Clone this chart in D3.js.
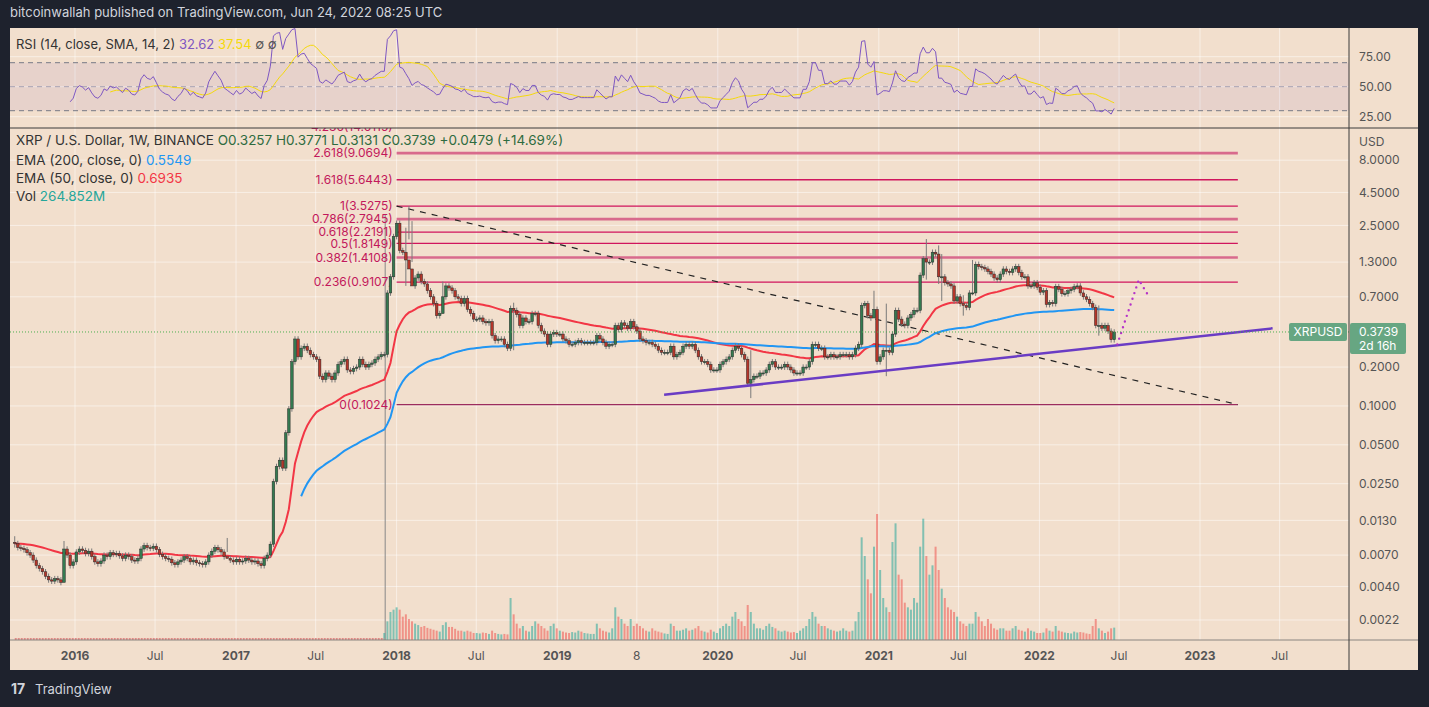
<!DOCTYPE html>
<html><head><meta charset="utf-8">
<script src="https://cdn.jsdelivr.net/npm/d3@7"></script>
<style>
body{margin:0;background:#1e222d;font-family:"Inter","Roboto",sans-serif;}
svg text{font-family:"Inter","Roboto",sans-serif;}
</style></head>
<body><svg id="chart" width="1429" height="707"></svg>
<script>
// weekly XRP/USD closes, first week = 2015-08-17
const startWeek = new Date(2015, 7, 17);
const closes = [
  // 2015
  0.0086,0.0080,0.0079,0.0077,0.0073,0.0070,0.0064,0.0058,0.0055,0.0052,0.0048,0.0045,0.0044,0.0046,0.0045,0.0043,0.0078,0.0070,0.0058,0.0062,
  // 2016
  0.0074,0.0078,0.0076,0.0072, 0.0075,0.0068,0.0062,0.0060, 0.0063,0.0070,0.0068,0.0073,0.0071, 0.0072,0.0069,0.0066,0.0070,
  0.0068,0.0064,0.0063,0.0066, 0.0078,0.0083,0.0080,0.0079, 0.0082,0.0077,0.0071,0.0068,0.0066, 0.0065,0.0061,0.0059,0.0062,
  0.0064,0.0068,0.0066,0.0062, 0.0064,0.0061,0.0060,0.0059,0.0062, 0.0070,0.0075,0.0080,0.0077, 0.0074,0.0068,0.0066,0.0064,0.0062,
  // 2017
  0.0065,0.0062,0.0063,0.0066,0.0064, 0.0062,0.0063,0.0060,0.0058, 0.0066,0.0070,0.0085,0.0260, 0.0340,0.0380,0.0330,0.0620,
  0.095,0.220,0.330,0.240,0.280, 0.290,0.270,0.250,0.240, 0.230,0.170,0.160,0.180,0.170, 0.160,0.180,0.210,0.220,
  0.230,0.190,0.185,0.195, 0.200,0.230,0.210,0.200,0.210, 0.215,0.230,0.240,0.250, 0.250,0.750,1.000,2.050,
  // 2018
  2.60,1.60,1.55,1.35,1.15, 0.85,0.98,1.05,0.92, 0.88,0.78,0.70,0.62, 0.50,0.52,0.70,0.85,0.82, 0.78,0.70,0.68,0.62,
  0.68,0.56,0.52,0.47, 0.47,0.48,0.45,0.44,0.45, 0.35,0.32,0.33,0.33, 0.30,0.28,0.57,0.55, 0.51,0.42,0.48,0.45,0.45,
  0.52,0.52,0.42,0.38, 0.36,0.30,0.36,0.37,0.36,
  // 2019
  0.36,0.33,0.32,0.30, 0.30,0.31,0.32,0.31, 0.31,0.31,0.31,0.31, 0.35,0.33,0.31,0.29,0.30, 0.30,0.42,0.39,0.44,
  0.42,0.40,0.45,0.41, 0.38,0.33,0.32,0.31,0.31, 0.30,0.29,0.27,0.26, 0.26,0.26,0.29,0.24,0.25, 0.26,0.29,0.30,0.29,
  0.30,0.27,0.24,0.22, 0.22,0.21,0.19,0.19,0.19,
  // 2020
  0.21,0.22,0.23,0.24, 0.27,0.29,0.28,0.25, 0.23,0.15,0.16,0.17,0.17, 0.18,0.18,0.19,0.21, 0.22,0.20,0.20,0.20,
  0.21,0.20,0.19,0.18,0.18, 0.18,0.20,0.20,0.22, 0.30,0.30,0.28,0.28, 0.24,0.24,0.25,0.24,0.24, 0.25,0.25,0.25,0.24,
  0.25,0.28,0.30,0.60,0.62, 0.50,0.48,0.56,0.22,
  // 2021
  0.24,0.27,0.27,0.26, 0.36,0.55,0.47,0.43, 0.42,0.48,0.51,0.55,0.55, 1.03,1.38,1.30,1.30, 1.55,1.50,1.00,1.00,0.90,
  0.88,0.85,0.65,0.70, 0.62,0.60,0.58,0.75, 0.75,1.25,1.20,1.18,1.15, 1.10,1.05,0.98,0.95, 1.05,1.15,1.10,1.08,
  1.15,1.20,1.08,1.00,1.00, 0.85,0.85,0.90,0.83,
  // 2022
  0.76,0.78,0.61,0.63, 0.62,0.84,0.80,0.74,0.74, 0.78,0.80,0.84,0.85, 0.75,0.70,0.67,0.62, 0.58,0.42,0.42,0.40,0.42,
  0.38,0.3257,0.3739
];
const firstOpen = 0.0088;
// notable wicks: week index -> [high, low]
const wicks = new Map([
  [0,[0.0098,0.0080]],[16,[0.0090,0.0045]],[69,[0.0095,0.0074]],[127,[2.40,0.85]],[128,[3.5275,1.95]],
  [129,[2.70,1.30]],[139,[0.92,0.52]],[162,[0.63,0.27]],[239,[0.27,0.115]],[279,[0.78,0.52]],[283,[0.62,0.17]],
  [296,[1.96,0.95]],[300,[1.75,0.88]],[301,[1.50,0.65]],[308,[0.72,0.50]],[311,[1.35,0.72]],[352,[0.60,0.35]]
]);
// volume (millions), weeks from 2017-12-04
const volStart = 120;
const volumes = [
  150,400,600,650,
  700,650,500,550,450, 400,350,320,280, 300,260,240,220, 200,180,320,380,280, 280,240,200,200, 180,200,180,150,
  150,140,160,150,130, 200,150,130,120, 130,120,900,550, 350,250,300,200,180, 300,400,350,300, 250,200,300,350,250,
  200,180,160,150, 170,160,200,180, 150,140,130,130, 350,250,200,180,160, 250,700,500,450, 350,300,450,300,
  350,300,250,200,180, 250,200,180,160, 140,130,350,300,200, 200,220,250,200, 220,250,300,200, 180,160,220,180,150,
  250,300,350,300, 500,600,450,400, 300,750,600,350,250, 250,220,300,350, 280,250,200,180, 200,180,160,170,150,
  200,250,300,450, 600,500,350,300, 300,250,220,200,180, 200,250,200,180, 200,400,600,2200,1800, 1300,1000,2000,2700,
  1500,900,700,600, 2100,2500,1400,1300, 800,700,650,900,800, 2000,2600,1800,1400, 1600,2000,1500,1100,900,
  700,650,600,500, 400,350,300,350, 350,600,500,400,300, 450,350,250,220, 250,250,200,200, 250,300,220,200,180, 250,200,180,150,
  150,160,250,200, 180,300,200,180,160, 150,140,180,160, 170,160,140,130, 300,450,250,200,150, 180,250,265
];
const fibLevels = ["4.236","2.618","1.618","1","0.786","0.618","0.5","0.382","0.236","0"];
const fibPrices = [14.6115,9.0694,5.6443,3.5275,2.7945,2.2191,1.8149,1.4108,0.9107,0.1024];
const priceTicks = [8,4.5,2.5,1.3,0.7,0.2,0.1,0.05,0.025,0.013,0.007,0.004,0.0022];
const rsiTicks = [75,50,25];
const timeTicks = [
  [new Date(2016,0,1),"2016"],[new Date(2016,6,1),"Jul"],[new Date(2017,0,1),"2017"],[new Date(2017,6,1),"Jul"],
  [new Date(2018,0,1),"2018"],[new Date(2018,6,1),"Jul"],[new Date(2019,0,1),"2019"],[new Date(2019,6,1),"8"],
  [new Date(2020,0,1),"2020"],[new Date(2020,6,1),"Jul"],[new Date(2021,0,1),"2021"],[new Date(2021,6,1),"Jul"],
  [new Date(2022,0,1),"2022"],[new Date(2022,6,1),"Jul"],[new Date(2023,0,1),"2023"],[new Date(2023,6,1),"Jul"]
];

const svg = d3.select("#chart");
const L = 10, R = 1418, AX = 1349, T = 28, RSIB = 128, PB = 640, B = 670;
const bg = "#f2dfcd", grid = "rgba(255,255,255,0.5)";

// candles
const data = closes.map((c, i) => {
  const o = i ? closes[i - 1] : firstOpen;
  const w = wicks.get(i);
  return { date: d3.timeDay.offset(startWeek, 7 * i), o, c,
    h: w ? w[0] : Math.max(o, c) * 1.05, l: w ? w[1] : Math.min(o, c) * 0.95,
    v: i >= volStart ? volumes[i - volStart] : 0 };
});

const x = d3.scaleTime().domain([new Date(2016,0,1), new Date(2023,0,1)]).range([75, 1200]);
const y = d3.scaleLog().domain([0.00154, 14.2]).range([PB, RSIB]);
const yR = d3.scaleLinear().domain([25, 75]).range([116.7, 56.7]);
const yV = d3.scaleLinear().domain([0, 2700]).range([0, 126]);

// ema + rsi from the closes
function ema(arr, n) { const a = 2 / (n + 1); let e = arr[0]; return arr.map(v => (e = a * v + (1 - a) * e)); }
const ema50 = ema(closes, 50), ema200 = ema(closes, 200);
const rsi = []; let ag = 0, al = 0;
closes.forEach((c, i) => {
  if (i === 0) return rsi.push(null);
  const d = c - closes[i - 1], g = Math.max(d, 0), l = Math.max(-d, 0);
  if (i <= 14) { ag += g / 14; al += l / 14; } else { ag = (ag * 13 + g) / 14; al = (al * 13 + l) / 14; }
  rsi.push(i < 18 ? null : 100 - 100 / (1 + ag / (al || 1e-9)));
});
const rsiSma = rsi.map((v, i) => i < 31 ? null : d3.mean(rsi.slice(i - 13, i + 1)));

// background
svg.append("rect").attr("x", L).attr("y", T).attr("width", R - L).attr("height", B - T).attr("fill", bg);
svg.append("text").attr("x", 10).attr("y", 17).attr("fill", "#d1d4dc").attr("font-size", 13)
  .text("bitcoinwallah published on TradingView.com, Jun 24, 2022 08:25 UTC");

const defs = svg.append("defs");
defs.append("clipPath").attr("id", "cp").append("rect").attr("x", L).attr("y", RSIB).attr("width", AX - L).attr("height", PB - RSIB);
defs.append("clipPath").attr("id", "cr").append("rect").attr("x", L).attr("y", T).attr("width", AX - L).attr("height", RSIB - T);

// grids
const g0 = svg.append("g");
timeTicks.forEach(([d]) => g0.append("line").attr("x1", x(d)).attr("x2", x(d)).attr("y1", T).attr("y2", PB).attr("stroke", grid));
priceTicks.forEach(p => g0.append("line").attr("x1", L).attr("x2", AX).attr("y1", y(p)).attr("y2", y(p)).attr("stroke", grid));
rsiTicks.forEach(r => g0.append("line").attr("x1", L).attr("x2", AX).attr("y1", yR(r)).attr("y2", yR(r)).attr("stroke", grid));

// RSI pane
const gr = svg.append("g").attr("clip-path", "url(#cr)");
gr.append("rect").attr("x", L).attr("width", AX - L).attr("y", yR(70)).attr("height", yR(30) - yR(70)).attr("fill", "rgba(126,87,194,0.09)");
[[70, "#787b86"], [50, "#a8a0b0"], [30, "#787b86"]].forEach(([r, c]) =>
  gr.append("line").attr("x1", L).attr("x2", AX).attr("y1", yR(r)).attr("y2", yR(r)).attr("stroke", c).attr("stroke-dasharray", "5,4"));
const lr = d3.line().defined(d => d[1] != null).x(d => x(d[0])).y(d => yR(d[1]));
gr.append("path").attr("d", lr(data.map((d, i) => [d.date, rsiSma[i]]))).attr("fill", "none").attr("stroke", "#f5d90a").attr("stroke-width", 1);
gr.append("path").attr("d", lr(data.map((d, i) => [d.date, rsi[i]]))).attr("fill", "none").attr("stroke", "#7e57c2").attr("stroke-width", 1);
const rl = svg.append("text").attr("x", 16).attr("y", 49).attr("font-size", 13).attr("fill", "#333").text("RSI (14, close, SMA, 14, 2) ");
rl.append("tspan").attr("fill", "#7e57c2").text(" 32.62 ");
rl.append("tspan").attr("fill", "#f5d90a").text(" 37.54 ");
rl.append("tspan").attr("fill", "#555").text(" ∅  ∅");

// price pane
const gp = svg.append("g").attr("clip-path", "url(#cp)");
const fibX0 = x(new Date(2018,0,1)), fibX1 = x(new Date(2023,2,28));
gp.append("line").attr("x1", x(new Date(2017,11,6))).attr("x2", x(new Date(2017,11,6))).attr("y1", y(3.5275) + 8).attr("y2", PB).attr("stroke", "#888").attr("stroke-width", 1);
fibPrices.forEach((p, i) => {
  const thick = fibLevels[i] === "0.786" || fibLevels[i] === "0.382" || fibLevels[i] === "2.618";
  gp.append("line").attr("x1", fibX0).attr("x2", fibX1).attr("y1", y(p)).attr("y2", y(p))
    .attr("stroke", fibLevels[i] === "0" ? "#9c2c5e" : (thick ? "#d86a8c" : "#d0155d")).attr("stroke-width", thick ? 2.6 : 1.3);
  gp.append("text").attr("x", fibX0 - 4).attr("y", y(p)).attr("dy", "0.35em").attr("text-anchor", "end")
    .attr("font-size", 12).attr("fill", "#c2185b").text(`${fibLevels[i]}(${p.toFixed(4)})`);
});
// volume
gp.selectAll(".vol").data(data.filter(d => d.v > 0)).join("rect")
  .attr("x", d => x(d.date) - 1).attr("width", 2).attr("y", d => PB - yV(d.v)).attr("height", d => yV(d.v))
  .attr("fill", d => d.c >= d.o ? "rgba(38,166,154,0.55)" : "rgba(239,83,80,0.55)");
gp.append("line").attr("x1", x(data[0].date)).attr("x2", x(data[volStart].date)).attr("y1", PB - 1).attr("y2", PB - 1)
  .attr("stroke", "#e08a86").attr("stroke-width", 2).attr("stroke-dasharray", "2,1");
// trend lines
gp.append("line").attr("x1", fibX0).attr("y1", y(3.5275)).attr("x2", fibX1).attr("y2", y(0.1024))
  .attr("stroke", "#222").attr("stroke-width", 1.2).attr("stroke-dasharray", "6,6");
// EMAs
const le = d3.line().x(d => x(d[0])).y(d => y(d[1]));
gp.append("path").attr("d", le(data.map((d, i) => [d.date, ema50[i]]))).attr("fill", "none").attr("stroke", "#f23645").attr("stroke-width", 2);
gp.append("path").attr("d", le(data.map((d, i) => [d.date, ema200[i]]).filter(d => d[0] >= new Date(2017,4,29))))
  .attr("fill", "none").attr("stroke", "#2196f3").attr("stroke-width", 2);
// candles
const cg = gp.append("g");
cg.selectAll(".w").data(data).join("line").attr("x1", d => x(d.date)).attr("x2", d => x(d.date))
  .attr("y1", d => y(d.h)).attr("y2", d => y(d.l)).attr("stroke", "#7a7a7a").attr("stroke-width", 1);
cg.selectAll(".b").data(data).join("rect").attr("x", d => x(d.date) - 1.3).attr("width", 2.6)
  .attr("y", d => y(Math.max(d.o, d.c))).attr("height", d => Math.max(1, y(Math.min(d.o, d.c)) - y(Math.max(d.o, d.c))))
  .attr("fill", d => d.c >= d.o ? "#347a50" : "#b5362a").attr("stroke", "#2a2a2a").attr("stroke-width", 0.5);
// support line + projection
gp.append("line").attr("x1", x(new Date(2019,8,1))).attr("y1", y(0.122)).attr("x2", x(new Date(2023,5,15))).attr("y2", y(0.399))
  .attr("stroke", "#6a3cc4").attr("stroke-width", 2.5);
const proj = [[new Date(2022,5,27), 0.30], [new Date(2022,7,15), 0.95], [new Date(2022,8,5), 0.72]];
gp.append("path").attr("d", le(proj)).attr("fill", "none").attr("stroke", "#b533c9").attr("stroke-width", 2.4)
  .attr("stroke-linecap", "round").attr("stroke-dasharray", "0,6");
// last price
const lastY = y(0.3739);
gp.append("line").attr("x1", L).attr("x2", AX).attr("y1", lastY).attr("y2", lastY).attr("stroke", "#4caf50").attr("stroke-dasharray", "1,2");

// legend
const pl = svg.append("g").attr("font-size", 13.5);
pl.append("text").attr("x", 16).attr("y", 145).attr("fill", "#333").text("XRP / U.S. Dollar, 1W, BINANCE")
  .append("tspan").attr("fill", "#2e6b3f").text("  O0.3257  H0.3771  L0.3131  C0.3739  +0.0479 (+14.69%)");
pl.append("text").attr("x", 16).attr("y", 165).attr("fill", "#333").text("EMA (200, close, 0)  ").append("tspan").attr("fill", "#2196f3").text("0.5549");
pl.append("text").attr("x", 16).attr("y", 183).attr("fill", "#333").text("EMA (50, close, 0)  ").append("tspan").attr("fill", "#f23645").text("0.6935");
pl.append("text").attr("x", 16).attr("y", 201).attr("fill", "#333").text("Vol  ").append("tspan").attr("fill", "#26a69a").text("264.852M");

// axes
svg.append("line").attr("x1", L).attr("x2", R).attr("y1", RSIB).attr("y2", RSIB).attr("stroke", "#3a3a3a");
svg.append("line").attr("x1", L).attr("x2", R).attr("y1", PB).attr("y2", PB).attr("stroke", "#8a8580");
svg.append("line").attr("x1", AX).attr("x2", AX).attr("y1", T).attr("y2", B).attr("stroke", "#3a3a3a");
const ra = svg.append("g").attr("font-size", 12).attr("fill", "#555");
priceTicks.forEach(p => ra.append("text").attr("x", 1359).attr("y", y(p)).attr("dy", "0.35em").text(p.toFixed(4)));
rsiTicks.forEach(r => ra.append("text").attr("x", 1359).attr("y", yR(r)).attr("dy", "0.35em").text(r.toFixed(2)));
ra.append("text").attr("x", 1359).attr("y", 142).attr("dy", "0.35em").text("USD");
timeTicks.forEach(([d, t]) => svg.append("text").attr("x", x(d)).attr("y", 660).attr("text-anchor", "middle")
  .attr("font-size", 12).attr("font-weight", /^\d{4}$/.test(t) ? 700 : 400).attr("fill", "#555").text(t));
// price labels
svg.append("rect").attr("x", 1289).attr("y", lastY - 9).attr("width", 58).attr("height", 18).attr("rx", 2).attr("fill", "#67a682");
svg.append("text").attr("x", 1318).attr("y", lastY).attr("dy", "0.35em").attr("text-anchor", "middle").attr("fill", "#fff").attr("font-size", 12).text("XRPUSD");
svg.append("rect").attr("x", AX + 1).attr("y", lastY - 9).attr("width", 56).attr("height", 31).attr("rx", 2).attr("fill", "#67a682");
svg.append("text").attr("x", 1359).attr("y", lastY).attr("dy", "0.35em").attr("fill", "#fff").attr("font-size", 12).text("0.3739");
svg.append("text").attr("x", 1359).attr("y", lastY + 14).attr("dy", "0.35em").attr("fill", "#fff").attr("font-size", 12).text("2d 16h");

// footer
svg.append("text").attr("x", 11).attr("y", 694).attr("fill", "#d1d4dc").attr("font-size", 14).attr("font-weight", 700).text("17");
svg.append("text").attr("x", 35).attr("y", 694).attr("fill", "#d1d4dc").attr("font-size", 13).text("TradingView");
</script></body></html>
